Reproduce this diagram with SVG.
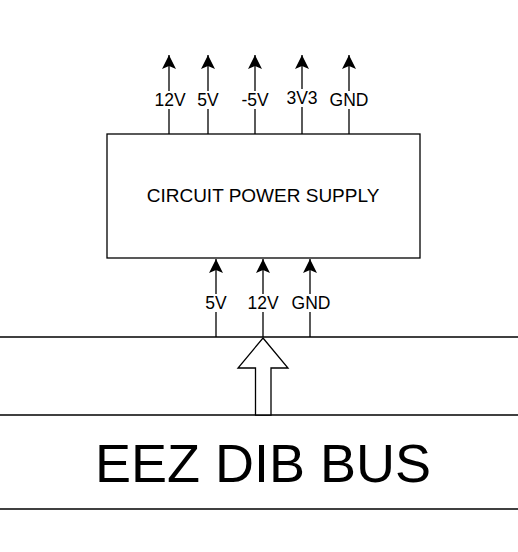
<svg xmlns="http://www.w3.org/2000/svg" width="518" height="552" viewBox="0 0 518 552">
<style>
.ln{stroke:#000;stroke-width:1.3;fill:none}
.lbl{font-family:"Liberation Sans",Arial,sans-serif;font-size:17.5px;fill:#000;text-anchor:middle;dominant-baseline:central}
.bg{fill:#fff}
</style>
<defs>
<marker id="ah" markerUnits="userSpaceOnUse" markerWidth="16" markerHeight="15" refX="15" refY="7.5" orient="auto" viewBox="0 0 16 15">
<path d="M15,7.5 L1,0.5 L4,7.5 L1,14.5 Z" fill="#000"/>
</marker>
</defs>
<rect width="518" height="552" fill="#fff"/>
<g id="bus-lines">
<line class="ln" x1="0" y1="337" x2="518" y2="337"/>
<line class="ln" x1="0" y1="415" x2="518" y2="415"/>
<line class="ln" x1="0" y1="509" x2="518" y2="509"/>
</g>
<g id="connectors">
<line class="ln" x1="169" y1="134" x2="169" y2="55" marker-end="url(#ah)"/>
<line class="ln" x1="208" y1="134" x2="208" y2="55" marker-end="url(#ah)"/>
<line class="ln" x1="255" y1="134" x2="255" y2="55" marker-end="url(#ah)"/>
<line class="ln" x1="302" y1="134" x2="302" y2="55" marker-end="url(#ah)"/>
<line class="ln" x1="349" y1="134" x2="349" y2="55" marker-end="url(#ah)"/>
<line class="ln" x1="216" y1="337" x2="216" y2="259" marker-end="url(#ah)"/>
<line class="ln" x1="263" y1="337" x2="263" y2="259" marker-end="url(#ah)"/>
<line class="ln" x1="310" y1="337" x2="310" y2="259" marker-end="url(#ah)"/>
<g id="labels">
<rect class="bg" x="153" y="91" width="34" height="18"/><text class="lbl" x="170" y="100">12V</text>
<rect class="bg" x="196" y="91" width="24" height="18"/><text class="lbl" x="208" y="100">5V</text>
<rect class="bg" x="239" y="91" width="32" height="18"/><text class="lbl" x="255" y="100">-5V</text>
<rect class="bg" x="285" y="89" width="34" height="18"/><text class="lbl" x="302" y="98">3V3</text>
<rect class="bg" x="329" y="91" width="40" height="18"/><text class="lbl" x="349" y="100">GND</text>
<rect class="bg" x="204" y="294" width="24" height="18"/><text class="lbl" x="216" y="303">5V</text>
<rect class="bg" x="246" y="294" width="34" height="18"/><text class="lbl" x="263" y="303">12V</text>
<rect class="bg" x="291" y="294" width="40" height="18"/><text class="lbl" x="311" y="303">GND</text>
</g>
</g>
<g id="power-supply">
<rect x="107" y="134" width="313" height="124" fill="#fff" stroke="#000" stroke-width="1.3"/>
<text class="lbl" x="263" y="195" style="font-size:19px">CIRCUIT POWER SUPPLY</text>
</g>
<g id="bus-arrow">
<path d="M263,338 L288,368 L271,368 L271,415 L255.5,415 L255.5,368 L238,368 Z" fill="#fff" stroke="#000" stroke-width="1.3"/>
</g>
<g id="eez-dib-bus">
<text x="263" y="482" font-family="Liberation Sans,Arial,sans-serif" font-size="54" text-anchor="middle" fill="#000">EEZ DIB BUS</text>
</g>
</svg>
